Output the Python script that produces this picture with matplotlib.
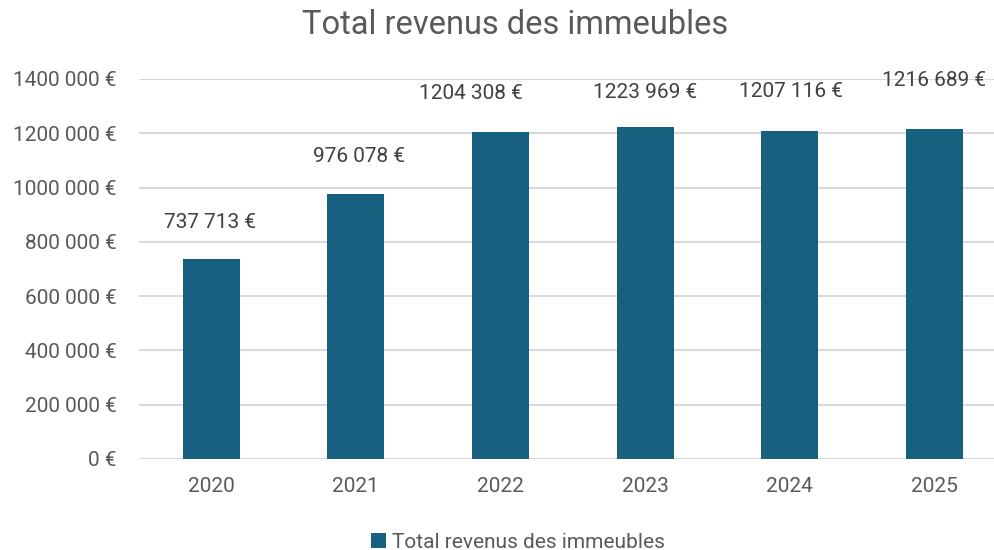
import matplotlib.pyplot as plt
from matplotlib.ticker import FuncFormatter

plt.rcParams['font.family'] = ['Roboto', 'DejaVu Sans']

years = ["2020", "2021", "2022", "2023", "2024", "2025"]
revenus = [737713, 976078, 1204308, 1223969, 1207116, 1216689]
yticks = [0, 200000, 400000, 600000, 800000, 1000000, 1200000, 1400000]

bar_color = '#17607F'
text_color = '#595959'
grid_color = '#D9D9D9'
# label offsets from bar tops, in points (labels were nudged by hand)
label_dx = [-1, 2, -21, 0, 1, 0]
label_dy = [26, 27, 28, 24.5, 29, 35]


def euro(v, pos=None):
    v = int(round(v))
    if v < 1000:
        return f"{v} €"
    return f"{v // 1000} {v % 1000:03d} €"


fig = plt.figure(figsize=(9.95, 5.5), dpi=100)
ax = fig.add_axes([139 / 995, 91 / 550, 856 / 995, 380 / 550])

x = list(range(len(years)))
ax.bar(x, revenus, width=0.395, color=bar_color, zorder=3,
       label="Total revenus des immeubles")

for xi, v, dx, dy in zip(x, revenus, label_dx, label_dy):
    ax.annotate(euro(v), (xi, v), xytext=(dx, dy), textcoords='offset points',
                ha='center', va='center', fontsize=15, color='#404040',
                annotation_clip=False)

ax.set_xlim(-0.5, 5.42)
ax.set_ylim(0, 1400000)
ax.set_yticks(yticks)
ax.yaxis.set_major_formatter(FuncFormatter(euro))
ax.set_xticks(x)
ax.set_xticklabels(years)
ax.grid(axis='y', color=grid_color, linewidth=1.5, zorder=0)
ax.set_axisbelow(True)
for s in ax.spines.values():
    s.set_visible(False)
ax.tick_params(axis='both', length=0, labelsize=15, colors=text_color)
ax.tick_params(axis='y', pad=16)
ax.tick_params(axis='x', pad=13)

fig.text(515 / 995, 1 - 25 / 550, "Total revenus des immeubles",
         ha='center', va='center', fontsize=23.5, color=text_color)

leg = fig.legend(loc='center', bbox_to_anchor=(518 / 995, 1 - 542 / 550),
                 frameon=False, fontsize=15, handlelength=0.7, handleheight=0.7,
                 handletextpad=0.3)
for t in leg.get_texts():
    t.set_color(text_color)

fig.savefig("out.png", dpi=100)
